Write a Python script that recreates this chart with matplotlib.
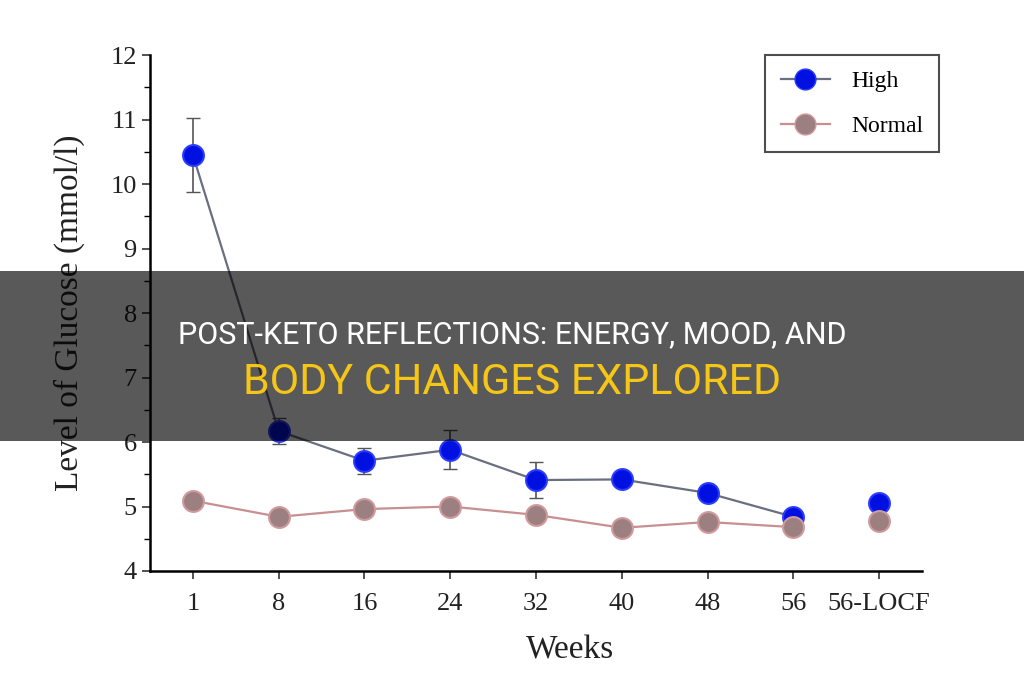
import matplotlib
matplotlib.use("Agg")
import matplotlib.pyplot as plt
from matplotlib.patches import Rectangle

weeks = ["1", "8", "16", "24", "32", "40", "48", "56", "56-LOCF"]
high = [10.45, 6.17, 5.71, 5.88, 5.41, 5.42, 5.21, 4.84, 5.05]
high_err = [0.57, 0.2, 0.2, 0.3, 0.28, 0.1, 0.1, 0.1, 0.1]
normal = [5.09, 4.84, 4.96, 5.0, 4.87, 4.67, 4.76, 4.68, 4.77]
normal_err = [0.08, 0.08, 0.08, 0.08, 0.08, 0.08, 0.08, 0.08, 0.08]

title_1 = "POST-KETO REFLECTIONS: ENERGY, MOOD, AND"
title_2 = "BODY CHANGES EXPLORED"

plt.rcParams["font.family"] = ["Liberation Serif", "DejaVu Serif"]

fig = plt.figure(figsize=(10.24, 6.8), dpi=100)
ax = fig.add_axes([0.1465, 0.1603, 0.7539, 0.7587])

x = list(range(len(weeks)))
n = len(weeks) - 1

# high group: line through week 56, LOCF point separate
ax.plot(x[:n], high[:n], color="#6a6f80", lw=1.6, zorder=2)
ax.errorbar(x, high, yerr=high_err, fmt="none", ecolor="#555555",
            elinewidth=1.2, capsize=5, zorder=3)
ax.plot(x, high, "o", ms=15, mfc="#0010e0", mec="#2a3cff", mew=1.5, zorder=4)

ax.plot(x[:n], normal[:n], color="#c88f92", lw=1.6, zorder=2)
ax.errorbar(x, normal, yerr=normal_err, fmt="none", ecolor="#8a7070",
            elinewidth=1.0, capsize=4, zorder=3)
ax.plot(x, normal, "o", ms=15, mfc="#9c7f80", mec="#d09a9c", mew=1.5, zorder=4)

# legend handles
h1, = ax.plot([], [], "-o", color="#6a6f80", ms=15, mfc="#0010e0", mec="#2a3cff", lw=1.6)
h2, = ax.plot([], [], "-o", color="#c88f92", ms=15, mfc="#9c7f80", mec="#d09a9c", lw=1.6)
leg = ax.legend([h1, h2], ["High", "Normal"], loc="upper right",
                bbox_to_anchor=(939 / 1024, 1 - 55 / 680), bbox_transform=fig.transFigure,
                borderaxespad=0, fontsize=17, frameon=True, fancybox=False,
                handlelength=2.1, borderpad=0.65, labelspacing=1.0, handletextpad=0.9)
leg.get_frame().set_edgecolor("#222222")
leg.get_frame().set_linewidth(1.5)

ax.set_xlim(-0.5, 8.5)
ax.set_ylim(4, 12)
ax.set_xticks(x)
ax.set_xticklabels(weeks)
ax.set_yticks(range(4, 13))
ax.set_yticks([4.5 + i for i in range(8)], minor=True)
ax.tick_params(axis="both", which="major", labelsize=19, direction="out",
               length=6, width=1.2, color="#333333", labelcolor="#222222")
ax.tick_params(axis="y", which="minor", direction="out", length=4, width=1.0)
ax.tick_params(axis="x", pad=10)
ax.spines["top"].set_visible(False)
ax.spines["right"].set_visible(False)
ax.spines["left"].set_linewidth(1.8)
ax.spines["bottom"].set_linewidth(1.8)
ax.set_xlabel("Weeks", fontsize=24, color="#222222", labelpad=12)
ax.xaxis.set_label_coords(0.544, -0.125)
ax.set_ylabel("Level of Glucose (mmol/l)", fontsize=24, color="#222222", labelpad=18)

# dark banner with title across the middle
fig.patches.append(Rectangle((0, 1 - 441 / 680), 1, 170 / 680, transform=fig.transFigure,
                             facecolor="black", alpha=0.65, zorder=10))
fig.text(0.5, 1 - 335 / 680, title_1, ha="center", va="center", color="white",
         fontsize=22, family="Roboto", zorder=11)
fig.text(0.5, 1 - 383 / 680, title_2, ha="center", va="center", color="#f5c518",
         fontsize=31, family="Roboto", zorder=11)

fig.savefig("out.png", dpi=100)
